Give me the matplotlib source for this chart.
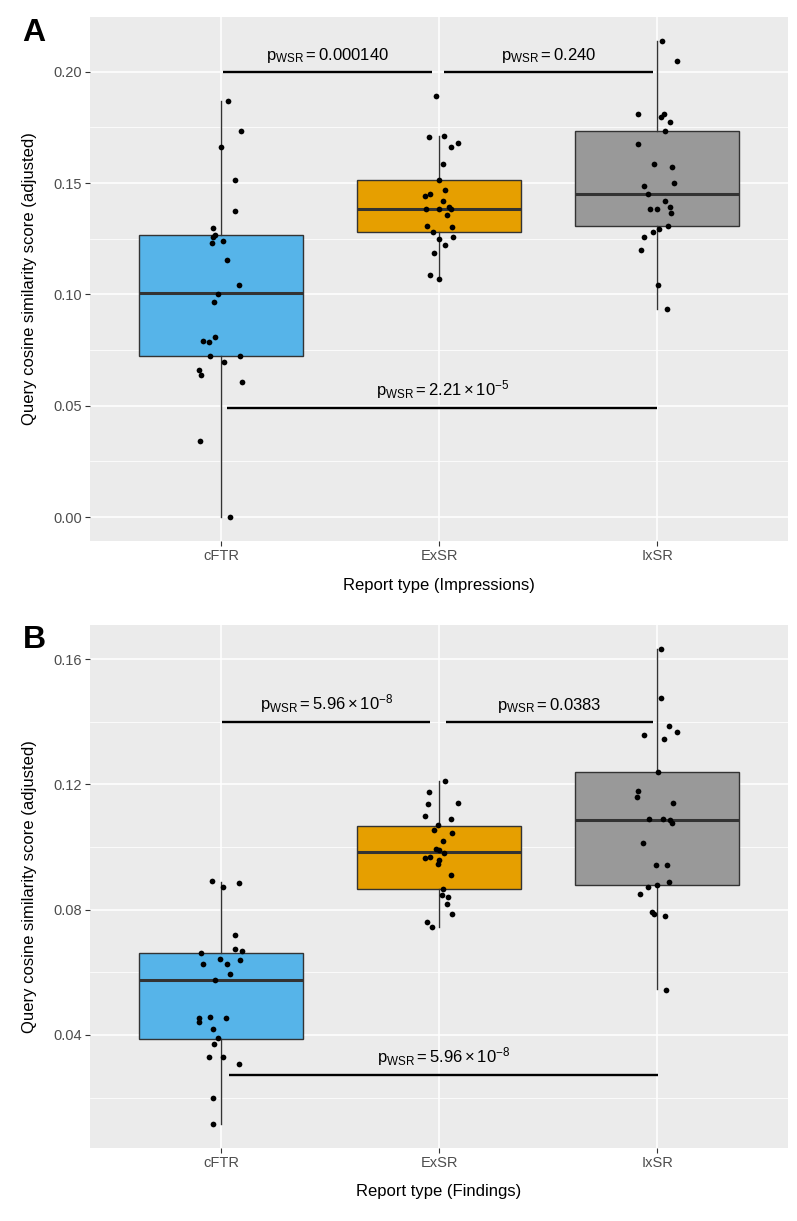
import numpy as np
import matplotlib
matplotlib.use("Agg")
import matplotlib.pyplot as plt
from matplotlib.ticker import MultipleLocator

plt.rcParams['font.family'] = ['Liberation Sans', 'DejaVu Sans']
plt.rcParams['mathtext.fontset'] = 'custom'
plt.rcParams['mathtext.rm'] = 'Liberation Sans'
plt.rcParams['mathtext.it'] = 'Liberation Sans:italic'
plt.rcParams['mathtext.bf'] = 'Liberation Sans:bold'

groups = ["cFTR", "ExSR", "IxSR"]
fills = ["#56B4E9", "#E69F00", "#999999"]

# ---- panel A: impressions ----
imp_cftr = [0.187, 0.1736, 0.166, 0.1513, 0.1377, 0.130, 0.1266, 0.1257, 0.123, 0.1242,
            0.1157, 0.1041, 0.1004, 0.0966, 0.079, 0.0787, 0.0809, 0.0725, 0.0725, 0.0697,
            0.0659, 0.0638, 0.0607, 0.034, 0.000]
imp_cftr_jit = [0.031, 0.090, -0.001, 0.067, 0.067, -0.035, -0.026, -0.034, -0.040, 0.012,
                0.026, 0.083, -0.012, -0.033, -0.083, -0.054, -0.028, -0.050, 0.086, 0.015,
                -0.101, -0.090, 0.096, -0.096, 0.041]
imp_exsr = [0.189, 0.1709, 0.1712, 0.1663, 0.168, 0.1585, 0.1513, 0.1468, 0.1441, 0.1452,
            0.1418, 0.1383, 0.1383, 0.1395, 0.1383, 0.1357, 0.1307, 0.1281, 0.1301, 0.1256,
            0.1247, 0.1220, 0.1185, 0.1086, 0.1071]
imp_exsr_jit = [-0.014, -0.047, 0.022, 0.056, 0.089, 0.020, 0.0, 0.026, -0.066, -0.041,
                0.018, -0.060, 0.0, 0.044, 0.056, 0.037, -0.054, -0.028, 0.061, 0.063,
                -0.001, 0.029, -0.023, -0.043, -0.001]
imp_ixsr = [0.2139, 0.2049, 0.181, 0.1799, 0.181, 0.1775, 0.1733, 0.1676, 0.1585, 0.1574,
            0.1489, 0.1501, 0.1452, 0.1419, 0.1395, 0.1383, 0.1383, 0.1368, 0.1307, 0.1294,
            0.1281, 0.1256, 0.1199, 0.1044, 0.0935]
imp_ixsr_jit = [0.023, 0.090, -0.087, 0.020, 0.031, 0.060, 0.035, -0.089, -0.014, 0.070,
                -0.060, 0.077, -0.040, 0.038, 0.057, -0.033, 0.0, 0.064, 0.050, 0.009,
                -0.020, -0.061, -0.075, 0.005, 0.045]
# box stats: whisker low, q1, median, q3, whisker high
imp_box = [[0.000, 0.0724, 0.1005, 0.1267, 0.187],
           [0.1071, 0.128, 0.1383, 0.1513, 0.1712],
           [0.0935, 0.1307, 0.1453, 0.1733, 0.2139]]
imp_tests = [(1.008, 1.966, 0.200, r"$\mathregular{p_{WSR} = 0.000140}$"),
             (2.023, 2.980, 0.200, r"$\mathregular{p_{WSR} = 0.240}$"),
             (1.029, 3.000, 0.049, r"$\mathregular{p_{WSR} = 2.21\times10^{-5}}$")]

# ---- panel B: findings ----
fin_cftr = [0.0890, 0.0872, 0.0885, 0.0720, 0.0676, 0.0668, 0.0663, 0.0643, 0.0627, 0.0627,
            0.0639, 0.0596, 0.0576, 0.0453, 0.0441, 0.0457, 0.0455, 0.0420, 0.0389, 0.0372,
            0.0330, 0.0330, 0.0307, 0.0200, 0.0115]
fin_cftr_jit = [-0.041, 0.011, 0.081, 0.064, 0.064, 0.095, -0.092, -0.005, -0.084, 0.026,
                0.089, 0.040, -0.026, -0.100, -0.101, -0.052, 0.023, -0.037, -0.014, -0.031,
                -0.055, 0.012, 0.084, -0.035, -0.035]
fin_exsr = [0.1212, 0.1177, 0.1139, 0.1142, 0.1099, 0.1090, 0.1069, 0.1053, 0.1045, 0.1019,
            0.0994, 0.0989, 0.0982, 0.0965, 0.0969, 0.0959, 0.0947, 0.0912, 0.0866, 0.0847,
            0.0842, 0.0819, 0.0786, 0.0761, 0.0745]
fin_exsr_jit = [0.026, -0.046, -0.049, 0.086, -0.063, 0.054, -0.005, -0.024, 0.061, 0.017,
                -0.015, 0.0, 0.024, -0.066, -0.041, -0.001, -0.006, 0.054, 0.018, 0.014,
                0.043, 0.035, 0.058, -0.056, -0.031]
fin_ixsr = [0.1633, 0.1476, 0.1388, 0.1366, 0.1358, 0.1346, 0.1240, 0.1180, 0.1160, 0.1142,
            0.1090, 0.1091, 0.1085, 0.1076, 0.1014, 0.0944, 0.0943, 0.0888, 0.0879, 0.0871,
            0.0850, 0.0793, 0.0787, 0.0780, 0.0545]
fin_ixsr_jit = [0.020, 0.017, 0.056, 0.089, -0.061, 0.032, 0.005, -0.089, -0.092, 0.073,
                -0.037, 0.028, 0.061, 0.067, -0.064, -0.003, 0.047, 0.054, 0.001, -0.041,
                -0.077, -0.024, -0.015, 0.037, 0.041]
fin_box = [[0.0116, 0.0388, 0.0576, 0.0663, 0.0888],
           [0.0746, 0.0866, 0.0984, 0.1068, 0.1212],
           [0.0546, 0.0879, 0.1085, 0.1241, 0.1633]]
fin_tests = [(1.006, 1.960, 0.140, r"$\mathregular{p_{WSR} = 5.96\times10^{-8}}$"),
             (2.030, 2.980, 0.140, r"$\mathregular{p_{WSR} = 0.0383}$"),
             (1.037, 3.003, 0.0272, r"$\mathregular{p_{WSR} = 5.96\times10^{-8}}$")]


def panel(ax, vals, jits, box, tests, ylim, major, minor, xlabel):
    ax.set_facecolor("#EBEBEB")
    for s in ax.spines.values():
        s.set_visible(False)
    ax.set_axisbelow(True)
    ax.yaxis.set_major_locator(MultipleLocator(major))
    ax.yaxis.set_minor_locator(MultipleLocator(minor))
    ax.grid(which="major", color="white", lw=1.1)
    ax.grid(which="minor", axis="y", color="white", lw=0.55)

    stats = []
    for b in box:
        stats.append(dict(whislo=b[0], q1=b[1], med=b[2], q3=b[3], whishi=b[4], fliers=[]))
    bp = ax.bxp(stats, positions=[1, 2, 3], widths=0.75, patch_artist=True,
                showfliers=False, showcaps=False,
                boxprops=dict(edgecolor="#333333", lw=1.0),
                medianprops=dict(color="#333333", lw=2.2),
                whiskerprops=dict(color="#333333", lw=1.0))
    for patch, c in zip(bp["boxes"], fills):
        patch.set_facecolor(c)

    for i, (v, j) in enumerate(zip(vals, jits)):
        ax.scatter(i + 1 + np.array(j), v, s=17, color="black", zorder=5, lw=0)

    for x0, x1, y, lab in tests:
        ax.plot([x0, x1], [y, y], color="black", lw=1.7, zorder=6, solid_capstyle="butt")
        ax.annotate(lab, ((x0 + x1) / 2, y), xytext=(0, 5), textcoords="offset points",
                    ha="center", va="bottom", fontsize=12, zorder=7)

    ax.set_xlim(0.4, 3.6)
    ax.set_ylim(*ylim)
    ax.set_xticks([1, 2, 3])
    ax.set_xticklabels(groups)
    ax.tick_params(axis="both", which="major", length=3.5, width=0.8, color="#333333",
                   labelcolor="#4D4D4D", labelsize=10.5, pad=2.5)
    ax.tick_params(axis="y", which="minor", length=0)
    ax.set_xlabel(xlabel, fontsize=12)
    ax.set_ylabel("Query cosine similarity score (adjusted)", fontsize=12)
    ax.xaxis.set_label_coords(0.5, -0.084)
    ax.xaxis.label.set_va("center")
    ax.yaxis.set_label_coords(-0.086, 0.5)
    ax.yaxis.label.set_va("center")


fig = plt.figure(figsize=(7.97, 12.21), dpi=100)
axA = fig.add_axes([90 / 797, 1 - 541 / 1221, 698 / 797, 524 / 1221])
axB = fig.add_axes([90 / 797, 1 - 1148 / 1221, 698 / 797, 523 / 1221])

panel(axA, [imp_cftr, imp_exsr, imp_ixsr], [imp_cftr_jit, imp_exsr_jit, imp_ixsr_jit],
      imp_box, imp_tests, (-0.0107, 0.2246), 0.05, 0.025, "Report type (Impressions)")
panel(axB, [fin_cftr, fin_exsr, fin_ixsr], [fin_cftr_jit, fin_exsr_jit, fin_ixsr_jit],
      fin_box, fin_tests, (0.0039, 0.1709), 0.04, 0.02, "Report type (Findings)")

fig.text(34 / 797, 1 - 33 / 1221, "A", fontsize=23, fontweight="bold", ha="center", va="center")
fig.text(34 / 797, 1 - 640 / 1221, "B", fontsize=23, fontweight="bold", ha="center", va="center")

fig.savefig("out.png", dpi=100)
